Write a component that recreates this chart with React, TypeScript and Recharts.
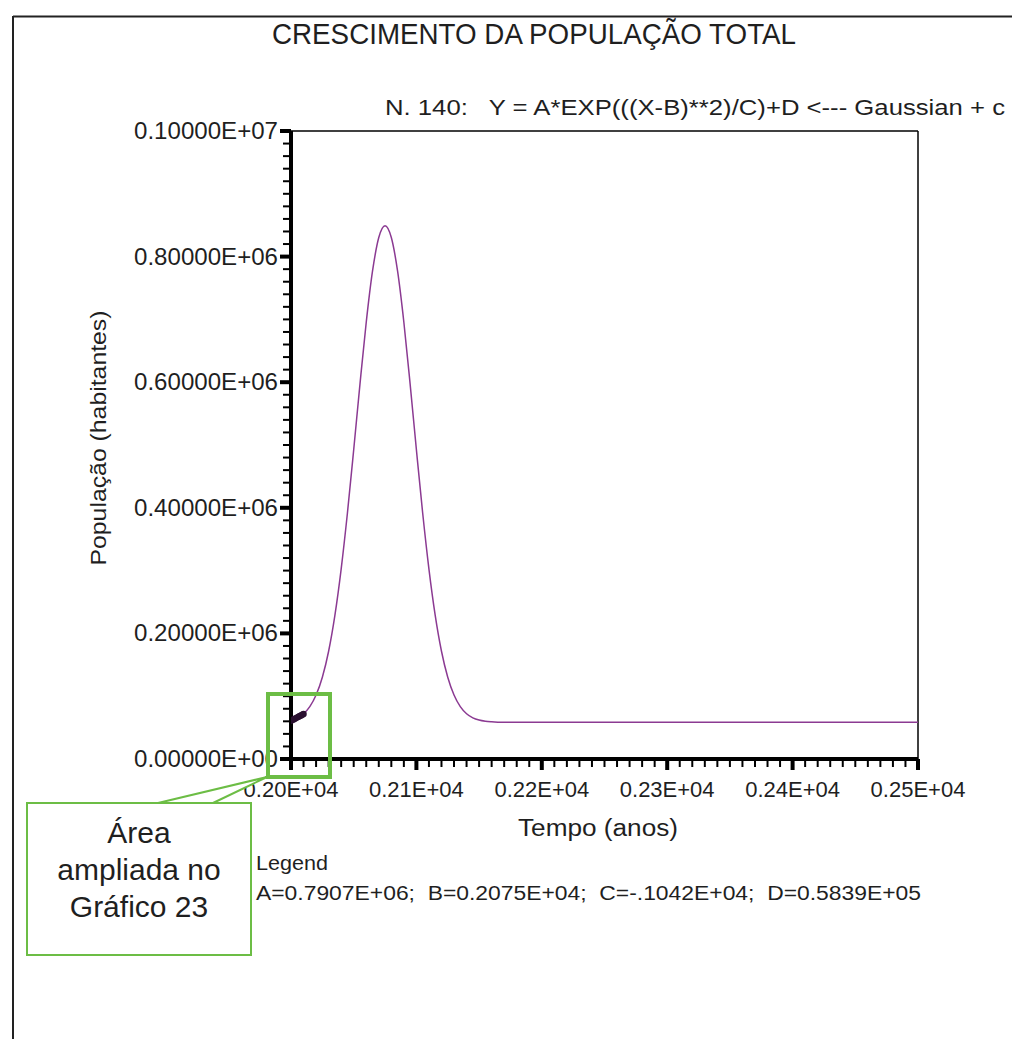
import React from 'react';
import { ComposedChart, Line, Scatter, XAxis, YAxis, ReferenceLine } from 'recharts';

// values (year, inhabitants)
const years = [
  2000, 2005, 2010, 2015, 2020, 2025, 2030, 2035, 2040, 2045, 2050, 2055, 2060, 2065, 2070, 2075,
  2080, 2085, 2090, 2095, 2100, 2105, 2110, 2115, 2120, 2125, 2130, 2135, 2140, 2145, 2150, 2155,
  2160, 2165, 2170, 2200, 2300, 2400, 2500,
];
const population = [
  62000, 65600, 72100, 83400, 101800, 130200, 171600, 228700, 302400, 391700, 492400, 597000,
  695500, 776700, 830300, 849100, 830300, 776700, 695500, 597000, 492400, 391700, 302400, 228700,
  171600, 130200, 101800, 83400, 72100, 65600, 62000, 60100, 59200, 58700, 58500, 58400, 58400,
  58400, 58400,
];

// observed points (dark cluster at the start)
const obsYears = [2000, 2001, 2002, 2003, 2004, 2005, 2006, 2007, 2008, 2009, 2010];
const obsPopulation = [60800, 62100, 62900, 64200, 65100, 66300, 67200, 68400, 69300, 70600, 71600];

const xMajorTicks = [2000, 2100, 2200, 2300, 2400, 2500];
const xTickLabels = ['0.20E+04', '0.21E+04', '0.22E+04', '0.23E+04', '0.24E+04', '0.25E+04'];
const yMajorTicks = [0, 200000, 400000, 600000, 800000, 1000000];
const yTickLabels = ['0.00000E+00', '0.20000E+06', '0.40000E+06', '0.60000E+06', '0.80000E+06', '0.10000E+07'];

const curveData = years.map((x, i) => ({ x, y: population[i] }));
const obsData = obsYears.map((x, i) => ({ x, y: obsPopulation[i] }));

const xTicks: number[] = [];
for (let v = xMajorTicks[0]; v <= xMajorTicks[xMajorTicks.length - 1]; v += 10) xTicks.push(v);
const yTicks: number[] = [];
for (let v = yMajorTicks[0]; v <= yMajorTicks[yMajorTicks.length - 1]; v += 20000) yTicks.push(v);

const W = 1012;
const H = 1039;
const PL = 291;
const PT = 131;
const PR = 918;
const PB = 759;
const FONT = '"Liberation Sans", Arial, sans-serif';
const GREEN = '#6cbd45';
const TXT = '#1f1f1f';

const XTick = (props: any) => {
  const { x, payload } = props;
  const idx = xMajorTicks.indexOf(payload.value);
  const major = idx >= 0;
  return (
    <g>
      <line x1={x} x2={x} y1={PB} y2={PB + (major ? 11 : 8)} stroke="#000" strokeWidth={major ? 4 : 2} />
      {major && (
        <text x={x} y={PB + 38} textAnchor="middle" fontSize={22} fontFamily={FONT} fill={TXT}>
          {xTickLabels[idx]}
        </text>
      )}
    </g>
  );
};

const YTick = (props: any) => {
  const { y, payload } = props;
  const idx = yMajorTicks.indexOf(payload.value);
  const major = idx >= 0;
  return (
    <g>
      <line x1={PL} x2={PL - (major ? 11 : 8)} y1={y} y2={y} stroke="#000" strokeWidth={major ? 4 : 2} />
      {major && (
        <text
          x={PL - 157}
          y={y + 8}
          fontSize={23}
          fontFamily={FONT}
          fill={TXT}
          textLength={144}
          lengthAdjust="spacingAndGlyphs"
        >
          {yTickLabels[idx]}
        </text>
      )}
    </g>
  );
};

const ObsDot = (props: any) => <circle cx={props.cx} cy={props.cy} r={3.2} fill="#2a1030" />;

export default function App() {
  return (
    <div style={{ position: 'absolute', left: 0, top: 0, width: W, height: H, background: '#fff' }}>
      <ComposedChart
        width={W}
        height={H}
        margin={{ top: PT, right: W - PR, bottom: H - PB - 40, left: PL - 80 }}
      >
        <XAxis
          dataKey="x"
          type="number"
          domain={[2000, 2500]}
          ticks={xTicks}
          interval={0}
          height={40}
          tick={<XTick />}
          tickLine={false}
          axisLine={{ stroke: '#000', strokeWidth: 4 }}
          allowDataOverflow
        />
        <YAxis
          dataKey="y"
          type="number"
          domain={[0, 1000000]}
          ticks={yTicks}
          interval={0}
          width={80}
          tick={<YTick />}
          tickLine={false}
          axisLine={{ stroke: '#000', strokeWidth: 4 }}
          allowDataOverflow
        />
        <ReferenceLine y={1000000} stroke="#000" strokeWidth={1.5} />
        <ReferenceLine x={2500} stroke="#000" strokeWidth={1.5} />
        <Line
          data={curveData}
          dataKey="y"
          type="monotone"
          stroke="#8b3a92"
          strokeWidth={1.5}
          dot={false}
          isAnimationActive={false}
        />
        <Scatter data={obsData} dataKey="y" shape={<ObsDot />} isAnimationActive={false} />
      </ComposedChart>
      <svg
        width={W}
        height={H}
        style={{ position: 'absolute', left: 0, top: 0, pointerEvents: 'none' }}
        fontFamily={FONT}
      >
        <line x1={13} x2={W} y1={16.5} y2={16.5} stroke="#222" strokeWidth={2} />
        <line x1={13} x2={13} y1={16} y2={H} stroke="#222" strokeWidth={2} />
        <text x={272} y={44} fontSize={29} fill={TXT} textLength={524} lengthAdjust="spacingAndGlyphs">
          CRESCIMENTO DA POPULAÇÃO TOTAL
        </text>
        <text x={385} y={115} fontSize={22} fill={TXT} textLength={620} lengthAdjust="spacingAndGlyphs" xmlSpace="preserve">
          {'N. 140:   Y = A*EXP(((X-B)**2)/C)+D <--- Gaussian + c'}
        </text>
        <text
          x={0}
          y={0}
          fontSize={22}
          fill={TXT}
          textAnchor="middle"
          textLength={255}
          lengthAdjust="spacingAndGlyphs"
          transform="translate(106 438) rotate(-90)"
        >
          População (habitantes)
        </text>
        <text x={518} y={836} fontSize={23} fill={TXT} textLength={160} lengthAdjust="spacingAndGlyphs">
          Tempo (anos)
        </text>
        <text x={256} y={870} fontSize={21} fill={TXT} textLength={72} lengthAdjust="spacingAndGlyphs">
          Legend
        </text>
        <text x={256} y={900} fontSize={20} fill={TXT} textLength={665} lengthAdjust="spacingAndGlyphs" xmlSpace="preserve">
          {'A=0.7907E+06;  B=0.2075E+04;  C=-.1042E+04;  D=0.5839E+05'}
        </text>
        <rect x={268} y={694} width={62} height={83} fill="none" stroke={GREEN} strokeWidth={4} />
        <path d="M158 803 L267 777 L213 803" fill="#fff" stroke={GREEN} strokeWidth={2} />
        <rect x={27} y={803} width={224} height={152} fill="#fff" stroke={GREEN} strokeWidth={2} />
        <text x={139} y={843} fontSize={30} fill={TXT} textAnchor="middle">
          Área
        </text>
        <text x={139} y={880} fontSize={30} fill={TXT} textAnchor="middle">
          ampliada no
        </text>
        <text x={139} y={917} fontSize={30} fill={TXT} textAnchor="middle">
          Gráfico 23
        </text>
      </svg>
    </div>
  );
}
